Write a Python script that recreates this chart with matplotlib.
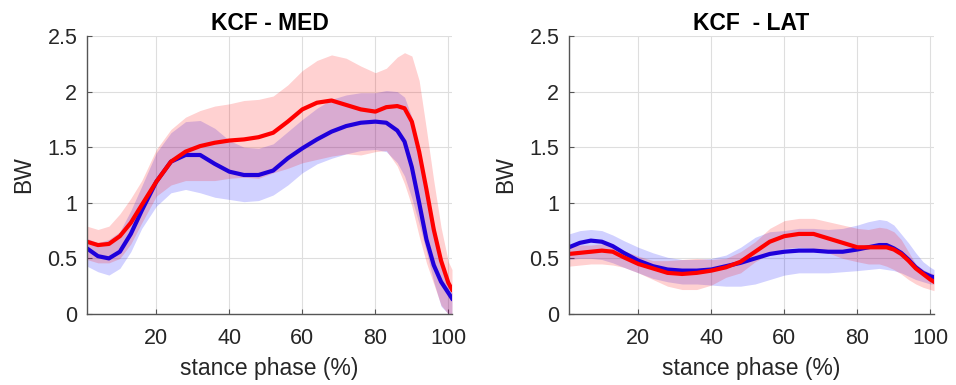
import matplotlib
matplotlib.use("Agg")
import matplotlib.pyplot as plt
import numpy as np

plt.rcParams['font.family'] = ['Liberation Sans', 'DejaVu Sans']

# stance phase (%) sample points
stance = [1, 4, 7, 10, 13, 16, 20, 24, 28, 32, 36, 40, 44, 48, 52, 56, 60,
          64, 68, 72, 76, 80, 83, 86, 88, 90, 92, 94, 96, 98, 100, 101]

# ---- KCF - MED ----
med_blue_mean = [0.59, 0.52, 0.50, 0.56, 0.72, 0.93, 1.19, 1.37, 1.43, 1.43, 1.35, 1.28,
                 1.25, 1.25, 1.29, 1.40, 1.49, 1.57, 1.64, 1.69, 1.72, 1.73, 1.72, 1.65,
                 1.55, 1.32, 1.00, 0.67, 0.44, 0.29, 0.19, 0.14]
med_blue_upper = [0.68, 0.64, 0.67, 0.74, 0.93, 1.15, 1.45, 1.63, 1.73, 1.74, 1.67, 1.56,
                  1.50, 1.49, 1.53, 1.64, 1.75, 1.85, 1.93, 1.97, 1.99, 1.99, 2.01, 2.00,
                  1.95, 1.77, 1.49, 1.14, 0.82, 0.50, 0.27, 0.19]
med_blue_lower = [0.43, 0.38, 0.35, 0.41, 0.56, 0.77, 0.97, 1.09, 1.12, 1.09, 1.05, 1.03,
                  1.01, 1.02, 1.07, 1.16, 1.27, 1.35, 1.40, 1.44, 1.47, 1.48, 1.46, 1.36,
                  1.24, 1.04, 0.81, 0.56, 0.29, 0.07, 0.00, 0.00]
med_red_mean = [0.65, 0.62, 0.63, 0.70, 0.82, 0.98, 1.19, 1.37, 1.46, 1.51, 1.54, 1.56,
                1.57, 1.59, 1.63, 1.73, 1.84, 1.90, 1.92, 1.88, 1.84, 1.82, 1.86, 1.87,
                1.85, 1.73, 1.46, 1.12, 0.76, 0.48, 0.28, 0.22]
med_red_upper = [0.79, 0.76, 0.79, 0.90, 1.04, 1.20, 1.48, 1.66, 1.77, 1.83, 1.87, 1.89,
                 1.92, 1.93, 1.96, 2.06, 2.19, 2.28, 2.33, 2.30, 2.23, 2.17, 2.21, 2.31,
                 2.35, 2.32, 2.10, 1.66, 1.20, 0.78, 0.47, 0.40]
med_red_lower = [0.49, 0.46, 0.46, 0.50, 0.63, 0.82, 1.06, 1.16, 1.20, 1.20, 1.20, 1.22,
                 1.23, 1.22, 1.27, 1.31, 1.36, 1.39, 1.42, 1.44, 1.43, 1.46, 1.47, 1.33,
                 1.17, 0.97, 0.70, 0.46, 0.27, 0.08, 0.00, 0.00]

# ---- KCF - LAT ----
lat_blue_mean = [0.60, 0.64, 0.66, 0.65, 0.61, 0.55, 0.48, 0.43, 0.40, 0.39, 0.39, 0.40,
                 0.43, 0.46, 0.50, 0.54, 0.56, 0.57, 0.57, 0.56, 0.56, 0.58, 0.60, 0.62,
                 0.62, 0.59, 0.55, 0.49, 0.42, 0.37, 0.34, 0.33]
lat_blue_upper = [0.72, 0.75, 0.76, 0.75, 0.71, 0.66, 0.60, 0.55, 0.51, 0.49, 0.49, 0.50,
                  0.53, 0.60, 0.69, 0.74, 0.75, 0.77, 0.77, 0.76, 0.77, 0.80, 0.83, 0.85,
                  0.84, 0.80, 0.72, 0.64, 0.55, 0.47, 0.42, 0.40]
lat_blue_lower = [0.49, 0.50, 0.50, 0.49, 0.46, 0.42, 0.37, 0.32, 0.29, 0.27, 0.27, 0.26,
                  0.25, 0.25, 0.27, 0.31, 0.35, 0.37, 0.37, 0.37, 0.38, 0.39, 0.40, 0.41,
                  0.40, 0.39, 0.37, 0.34, 0.31, 0.29, 0.27, 0.27]
lat_red_mean = [0.54, 0.55, 0.56, 0.57, 0.56, 0.51, 0.45, 0.41, 0.37, 0.36, 0.37, 0.39,
                0.42, 0.47, 0.56, 0.65, 0.70, 0.72, 0.72, 0.68, 0.64, 0.60, 0.60, 0.60,
                0.60, 0.58, 0.54, 0.48, 0.41, 0.36, 0.31, 0.29]
lat_red_upper = [0.61, 0.62, 0.62, 0.63, 0.61, 0.57, 0.52, 0.48, 0.48, 0.49, 0.50, 0.49,
                 0.50, 0.56, 0.65, 0.77, 0.84, 0.86, 0.86, 0.83, 0.80, 0.77, 0.76, 0.78,
                 0.77, 0.74, 0.67, 0.56, 0.45, 0.40, 0.37, 0.36]
lat_red_lower = [0.43, 0.44, 0.45, 0.45, 0.44, 0.42, 0.37, 0.31, 0.25, 0.22, 0.22, 0.26,
                 0.33, 0.37, 0.47, 0.54, 0.59, 0.60, 0.59, 0.55, 0.50, 0.47, 0.45, 0.45,
                 0.43, 0.40, 0.36, 0.31, 0.27, 0.24, 0.22, 0.21]

titles = ["KCF - MED", "KCF  - LAT"]
xticks = [20, 40, 60, 80, 100]
yticks = [0, 0.5, 1, 1.5, 2, 2.5]
ytick_labels = ["0", "0.5", "1", "1.5", "2", "2.5"]

BLUE = (0.12, 0.0, 0.86)
RED = (1.0, 0.0, 0.0)
TXT = '#262626'

fig = plt.figure(figsize=(9.56, 3.85), dpi=100)
W, H = 956, 385
axes_px = [(87, 36, 365, 278), (569, 36, 365, 278)]

panels = [
    (med_blue_mean, med_blue_upper, med_blue_lower, med_red_mean, med_red_upper, med_red_lower),
    (lat_blue_mean, lat_blue_upper, lat_blue_lower, lat_red_mean, lat_red_upper, lat_red_lower),
]

for (l, t, w, h), title, data in zip(axes_px, titles, panels):
    ax = fig.add_axes([l / W, (H - t - h) / H, w / W, h / H])
    bm, bu, bl, rm, ru, rl = data
    ax.fill_between(stance, bl, bu, color=(0.0, 0.0, 1.0), alpha=0.18, linewidth=0)
    ax.fill_between(stance, rl, ru, color=(1.0, 0.0, 0.0), alpha=0.18, linewidth=0)
    ax.plot(stance, bm, color=BLUE, linewidth=3.0, solid_joinstyle='round')
    ax.plot(stance, rm, color=RED, linewidth=3.0, solid_joinstyle='round')
    ax.set_xlim(1, 101)
    ax.set_ylim(0, 2.5)
    ax.set_xticks(xticks)
    ax.set_yticks(yticks)
    ax.set_yticklabels(ytick_labels)
    ax.grid(True, color='#dedede', linewidth=0.8)
    ax.set_axisbelow(True)
    for s in ['top', 'right']:
        ax.spines[s].set_visible(False)
    for s in ['left', 'bottom']:
        ax.spines[s].set_color('#555555')
        ax.spines[s].set_linewidth(1.0)
    ax.tick_params(axis='both', direction='in', length=3.5, width=0.8, color='#555555',
                   labelsize=15.5, labelcolor=TXT)
    ax.tick_params(axis='x', pad=10)
    ax.tick_params(axis='y', pad=7)
    ax.set_title(title, fontsize=16.5, fontweight='bold', color='black', pad=4.5)
    ax.set_xlabel("stance phase (%)", fontsize=16.5, color=TXT)
    ax.set_ylabel("BW", fontsize=16.5, color=TXT)
    ax.xaxis.set_label_coords(0.5, -0.155)
    ax.yaxis.set_label_coords(-0.143, 0.5)

fig.savefig("out.png", dpi=100)
